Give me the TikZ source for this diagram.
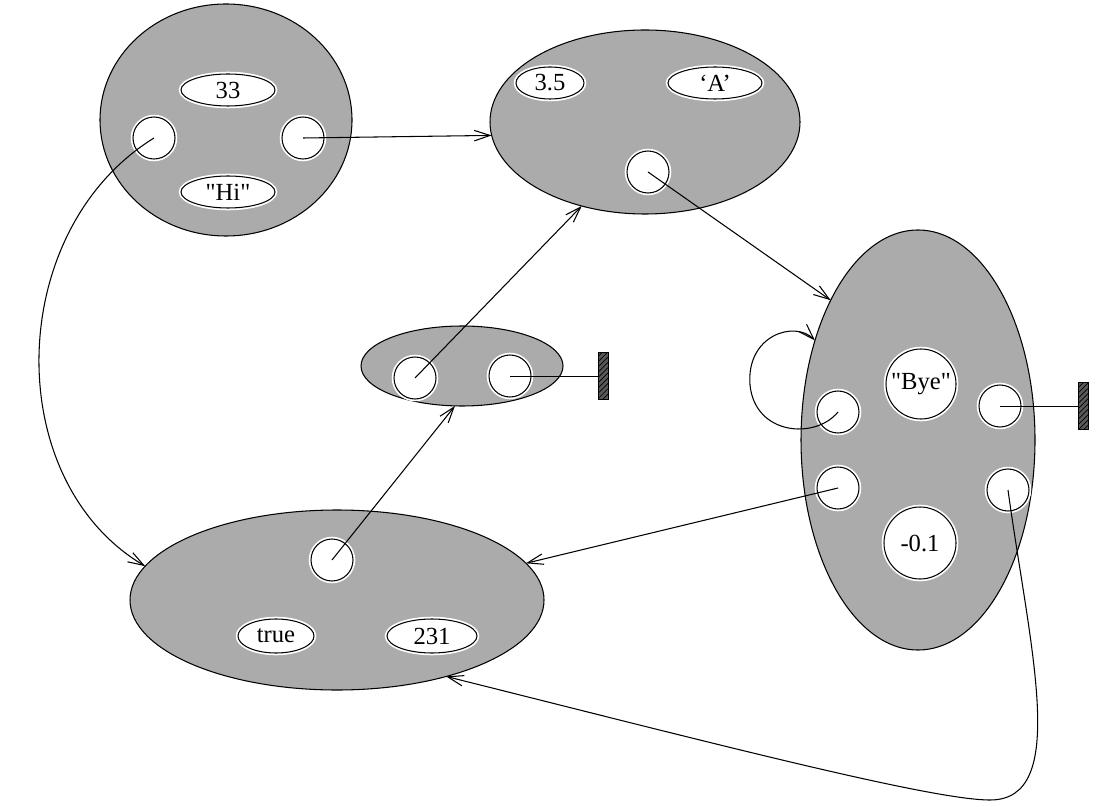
\documentclass[tikz,border=0pt]{standalone}
\usepackage{fontspec}
\setmainfont{Liberation Serif}
\usetikzlibrary{shapes.geometric,arrows.meta,patterns}

\tikzset{
  sz/.style 2 args={minimum width=#1*0.02cm, minimum height=#2*0.02cm},
  blob/.style={ellipse, draw, line width=0.6pt, fill=black!33, inner sep=0pt, outer sep=0pt},
  slot/.style={ellipse, draw, line width=0.6pt, fill=white, inner sep=0pt, outer sep=0pt,
    font=\fontsize{14}{16}\selectfont,
    preaction={draw=white, line width=2.6pt}},
  ref/.style={slot, circle},
  ground/.style={rectangle, draw, line width=0.5pt, inner sep=0pt, outer sep=0pt,
    preaction={fill=black!65}, pattern=north east lines, pattern color=black},
  link/.style={line width=0.6pt, -{Straight Barb[length=9pt,width=6pt,line width=0.6pt]}},
  wire/.style={line width=0.5pt}
}

\begin{document}
\begin{tikzpicture}[x=0.02cm, y=-0.02cm]
  \useasboundingbox (0,0) rectangle (1098,807);

  % outer records
  \node[blob, sz={252}{232}] (A) at (226,120) {};
  \node[blob, sz={310}{184}] (B) at (645,122) {};
  \node[blob, sz={202}{80}]  (C) at (462,366) {};
  \node[blob, sz={414}{180}] (D) at (337,600) {};
  \node[blob, sz={234}{420}] (E) at (918,440) {};

  % fields of A
  \node[slot, sz={94}{32}] (a33) at (228,90)  {33};
  \node[slot, sz={94}{32}] (aHi) at (228,192) {\textquotedbl Hi\textquotedbl};
  \node[ref, minimum size=42*0.02cm] (aL) at (154,138) {};
  \node[ref, minimum size=42*0.02cm] (aR) at (303,138) {};

  % fields of B
  \node[slot, sz={68}{32}] (b35) at (550,83) {3.5};
  \node[slot, sz={94}{32}] (bA)  at (715,83) {`A'};
  \node[ref, minimum size=42*0.02cm] (bc) at (648,172) {};

  % fields of C
  \node[ref, minimum size=42*0.02cm] (cL) at (415,378) {};
  \node[ref, minimum size=42*0.02cm] (cR) at (510,376) {};
  \node[ground, sz={10}{47}] (gC) at (603,376) {};

  % fields of D
  \node[ref, minimum size=42*0.02cm] (dc) at (332,560) {};
  \node[slot, sz={76}{34}] (dT)   at (276,636) {true};
  \node[slot, sz={90}{34}] (d231) at (432,636) {231};

  % fields of E
  \node[ref, minimum size=70*0.02cm] (eBye) at (921,384) {\textquotedbl Bye\textquotedbl};
  \node[ref, minimum size=72*0.02cm] (eM)   at (920,543) {-0.1};
  \node[ref, minimum size=42*0.02cm] (eL1) at (838,412) {};
  \node[ref, minimum size=42*0.02cm] (eL2) at (838,488) {};
  \node[ref, minimum size=42*0.02cm] (eR1) at (1000,406) {};
  \node[ref, minimum size=42*0.02cm] (eR2) at (1008,490) {};
  \node[ground, sz={10}{47}] (gE) at (1083,406) {};

  % pointers
  \draw[link] (aR.center) -- (B.185.5);
  \draw[link] (aL.center) .. controls (5,230) and (0,480) .. (D.170.7);
  \draw[link] (bc.center) -- (E.122.6);
  \draw[link] (cL.center) -- (B.233);
  \draw[link] (dc.center) -- (C.260);
  \draw[link] (eL2.center) -- (D.11.5);
  \draw[link] (eR2.center) .. controls (1030,650) and (1070,800) .. (990,800)
                           .. controls (930,800) and (700,740) .. (D.325.4);
  \draw[link] (eL1.center) .. controls (815,440) and (755,435) .. (750,385)
                           .. controls (746,335) and (795,320) .. (E.136.6);

  % null pointers
  \draw[wire] (cR.center) -- (gC.west);
  \draw[wire] (eR1.center) -- (gE.west);
\end{tikzpicture}
\end{document}
